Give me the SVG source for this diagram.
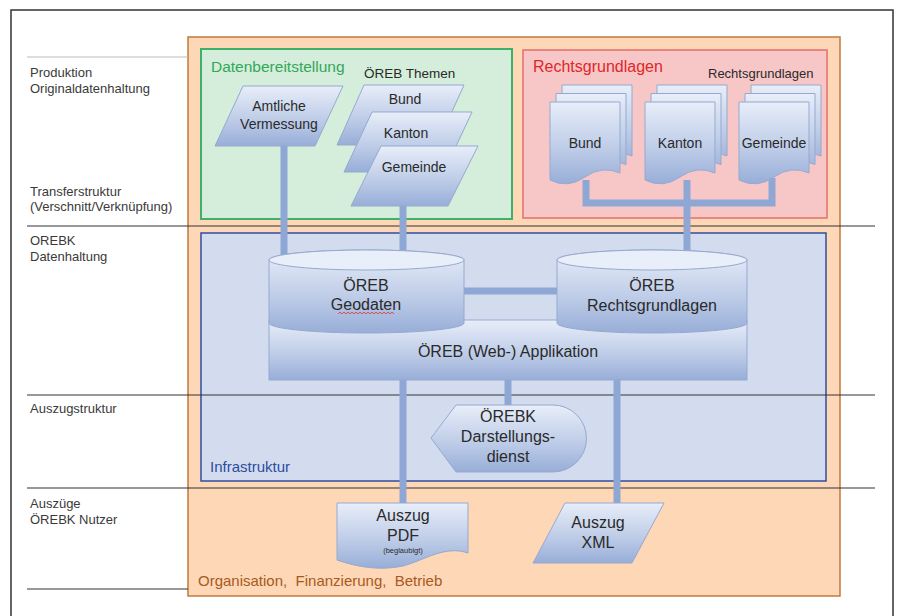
<svg xmlns="http://www.w3.org/2000/svg" width="898" height="616" viewBox="0 0 898 616">
<defs>
<linearGradient id="nodeGrad" x1="0" y1="0" x2="0" y2="1">
<stop offset="0" stop-color="#E8EEF9"/>
<stop offset="0.55" stop-color="#BFCDE8"/>
<stop offset="1" stop-color="#98AED8"/>
</linearGradient>
<path id="page" d="M0,0 H70 V71 Q52,63 35,75 T0,78 Z"/>
<style>
.node{fill:url(#nodeGrad);stroke:#95A9D0;stroke-width:1}
.conn{stroke:#8FA7D4;stroke-width:7;fill:none}
.sep{stroke:#333;stroke-width:1.2}
.lbl{font-family:"Liberation Sans",Arial,sans-serif;font-size:13px;fill:#3a3a3a}
.t{font-family:"Liberation Sans",Arial,sans-serif;fill:#2a2a2a;text-anchor:middle}
</style>
</defs>
<rect width="898" height="616" fill="#fff"/>
<rect x="11" y="10" width="882" height="620" fill="none" stroke="#333" stroke-width="1.5"/>

<g id="containers">
<rect x="188" y="37" width="652" height="559" fill="#FDD7B6" stroke="#C07A3C" stroke-width="1.5"/>
<rect x="201" y="49" width="311" height="170" fill="#D4EEDB" stroke="#3FB06A" stroke-width="2"/>
<rect x="523" y="50" width="304" height="168" fill="#F7C7C7" stroke="#E36F6F" stroke-width="1.5"/>
<rect x="201" y="233" width="625" height="248" fill="#D3DCEF" stroke="#2F4EA0" stroke-width="1.5"/>
</g>

<g id="separators">
<line x1="27" y1="57" x2="188" y2="57" stroke="#bbb" stroke-width="1.2"/>
<line class="sep" x1="27" y1="226" x2="875" y2="226"/>
<line class="sep" x1="27" y1="395" x2="875" y2="395"/>
<line class="sep" x1="27" y1="488" x2="875" y2="488"/>
<line class="sep" x1="27" y1="589" x2="188" y2="589"/>
</g>

<g id="connectors">
<line class="conn" x1="284" y1="146" x2="284" y2="256"/>
<line class="conn" x1="403" y1="200" x2="403" y2="256"/>
<path class="conn" d="M586,180 V203 H772 V178"/>
<line class="conn" x1="687" y1="180" x2="687" y2="256"/>
<line class="conn" x1="460" y1="291" x2="560" y2="291"/>
<line class="conn" x1="403" y1="378" x2="403" y2="505"/>
<line class="conn" x1="508" y1="378" x2="508" y2="408"/>
<line class="conn" x1="617" y1="378" x2="617" y2="505"/>
</g>

<g id="text-labels">
<text class="lbl" x="30" y="77">Produktion</text>
<text class="lbl" x="30" y="93">Originaldatenhaltung</text>
<text class="lbl" x="30" y="196">Transferstruktur</text>
<text class="lbl" x="30" y="211">(Verschnitt/Verknüpfung)</text>
<text class="lbl" x="30" y="245">OREBK</text>
<text class="lbl" x="30" y="261">Datenhaltung</text>
<text class="lbl" x="30" y="413">Auszugstruktur</text>
<text class="lbl" x="30" y="508">Auszüge</text>
<text class="lbl" x="30" y="524">ÖREBK  Nutzer</text>
<text x="211" y="72" font-family="Liberation Sans, Arial, sans-serif" font-size="15.5" fill="#35A65A">Datenbereitstellung</text>
<text x="364" y="78" font-family="Liberation Sans, Arial, sans-serif" font-size="13.5" fill="#2a2a2a">ÖREB  Themen</text>
<text x="533" y="72" font-family="Liberation Sans, Arial, sans-serif" font-size="16" fill="#E0262A">Rechtsgrundlagen</text>
<text x="708" y="78" font-family="Liberation Sans, Arial, sans-serif" font-size="13" fill="#2a2a2a">Rechtsgrundlagen</text>
<text x="210" y="472" font-family="Liberation Sans, Arial, sans-serif" font-size="15" fill="#2D4C9E">Infrastruktur</text>
<text x="198" y="586" font-family="Liberation Sans, Arial, sans-serif" font-size="15" fill="#A85A1E" xml:space="preserve">Organisation,  Finanzierung,  Betrieb</text>
</g>

<g id="amtliche-vermessung">
<polygon class="node" points="243,86 343,86 315,146 215,146"/>
<text class="t" x="279" y="111" font-size="14">Amtliche</text>
<text class="t" x="279" y="129" font-size="14">Vermessung</text>
</g>

<g id="themen-bund">
<polygon class="node" points="364,85 464,85 437,145 337,145"/>
<text class="t" x="405" y="104" font-size="14">Bund</text>
</g>
<g id="themen-kanton">
<polygon class="node" points="372,112 472,112 444,172 344,172"/>
<text class="t" x="406" y="138" font-size="14">Kanton</text>
</g>
<g id="themen-gemeinde">
<polygon class="node" points="381,146 478,146 448,206 351,206"/>
<text class="t" x="414" y="172" font-size="14">Gemeinde</text>
</g>

<g id="recht-bund">
<use href="#page" class="node" x="562" y="85"/>
<use href="#page" class="node" x="556" y="93.5"/>
<use href="#page" class="node" x="550" y="102"/>
<text class="t" x="585" y="148" font-size="14">Bund</text>
</g>
<g id="recht-kanton">
<use href="#page" class="node" x="657" y="85"/>
<use href="#page" class="node" x="651" y="93.5"/>
<use href="#page" class="node" x="645" y="102"/>
<text class="t" x="680" y="148" font-size="14">Kanton</text>
</g>
<g id="recht-gemeinde">
<use href="#page" class="node" x="751" y="85"/>
<use href="#page" class="node" x="745" y="93.5"/>
<use href="#page" class="node" x="739" y="102"/>
<text class="t" x="774" y="148" font-size="14">Gemeinde</text>
</g>

<g id="web-applikation">
<rect class="node" x="269" y="320" width="478" height="60"/>
<text class="t" x="508" y="357" font-size="16">ÖREB (Web-) Applikation</text>
</g>

<g id="oereb-geodaten">
<path class="node" d="M269,260 A97.5,10 0 0 1 464,260 V323 A97.5,10 0 0 1 269,323 Z"/>
<ellipse cx="366.5" cy="260" rx="97.5" ry="10" fill="#E9EFF9" stroke="#95A9D0"/>
<text class="t" x="366" y="291" font-size="16">ÖREB</text>
<text class="t" x="366" y="310" font-size="16">Geodaten</text>
<path d="M338,314 l2,-2 l2,2 l2,-2 l2,2 l2,-2 l2,2 l2,-2 l2,2 l2,-2 l2,2 l2,-2 l2,2 l2,-2 l2,2 l2,-2 l2,2 l2,-2 l2,2 l2,-2 l2,2 l2,-2 l2,2 l2,-2 l2,2 l2,-2 l2,2 l2,-2 l2,2" fill="none" stroke="#D33" stroke-width="0.8"/>
</g>

<g id="oereb-rechtsgrundlagen">
<path class="node" d="M557,260 A95,10 0 0 1 747,260 V323 A95,10 0 0 1 557,323 Z"/>
<ellipse cx="652" cy="260" rx="95" ry="10" fill="#E9EFF9" stroke="#95A9D0"/>
<text class="t" x="652" y="291" font-size="16">ÖREB</text>
<text class="t" x="652" y="311" font-size="16">Rechtsgrundlagen</text>
</g>

<g id="darstellungsdienst">
<path class="node" d="M431,438 L456,405 H553 A33.5,33.5 0 0 1 553,472 H456 Z"/>
<text class="t" x="508" y="422" font-size="16">ÖREBK</text>
<text class="t" x="508" y="442" font-size="16">Darstellungs-</text>
<text class="t" x="508" y="462" font-size="16">dienst</text>
</g>

<g id="auszug-pdf">
<path class="node" d="M337,503 H468 V553 C445,545 425,560 403,566 C380,571 357,567 337,560 Z"/>
<text class="t" x="403" y="521" font-size="16">Auszug</text>
<text class="t" x="403" y="541" font-size="16">PDF</text>
<text class="t" x="403" y="553" font-size="7.5">(beglaubigt)</text>
</g>

<g id="auszug-xml">
<polygon class="node" points="565,503 664,503 632,563 533,563"/>
<text class="t" x="598" y="528" font-size="16">Auszug</text>
<text class="t" x="598" y="548" font-size="16">XML</text>
</g>
</svg>
